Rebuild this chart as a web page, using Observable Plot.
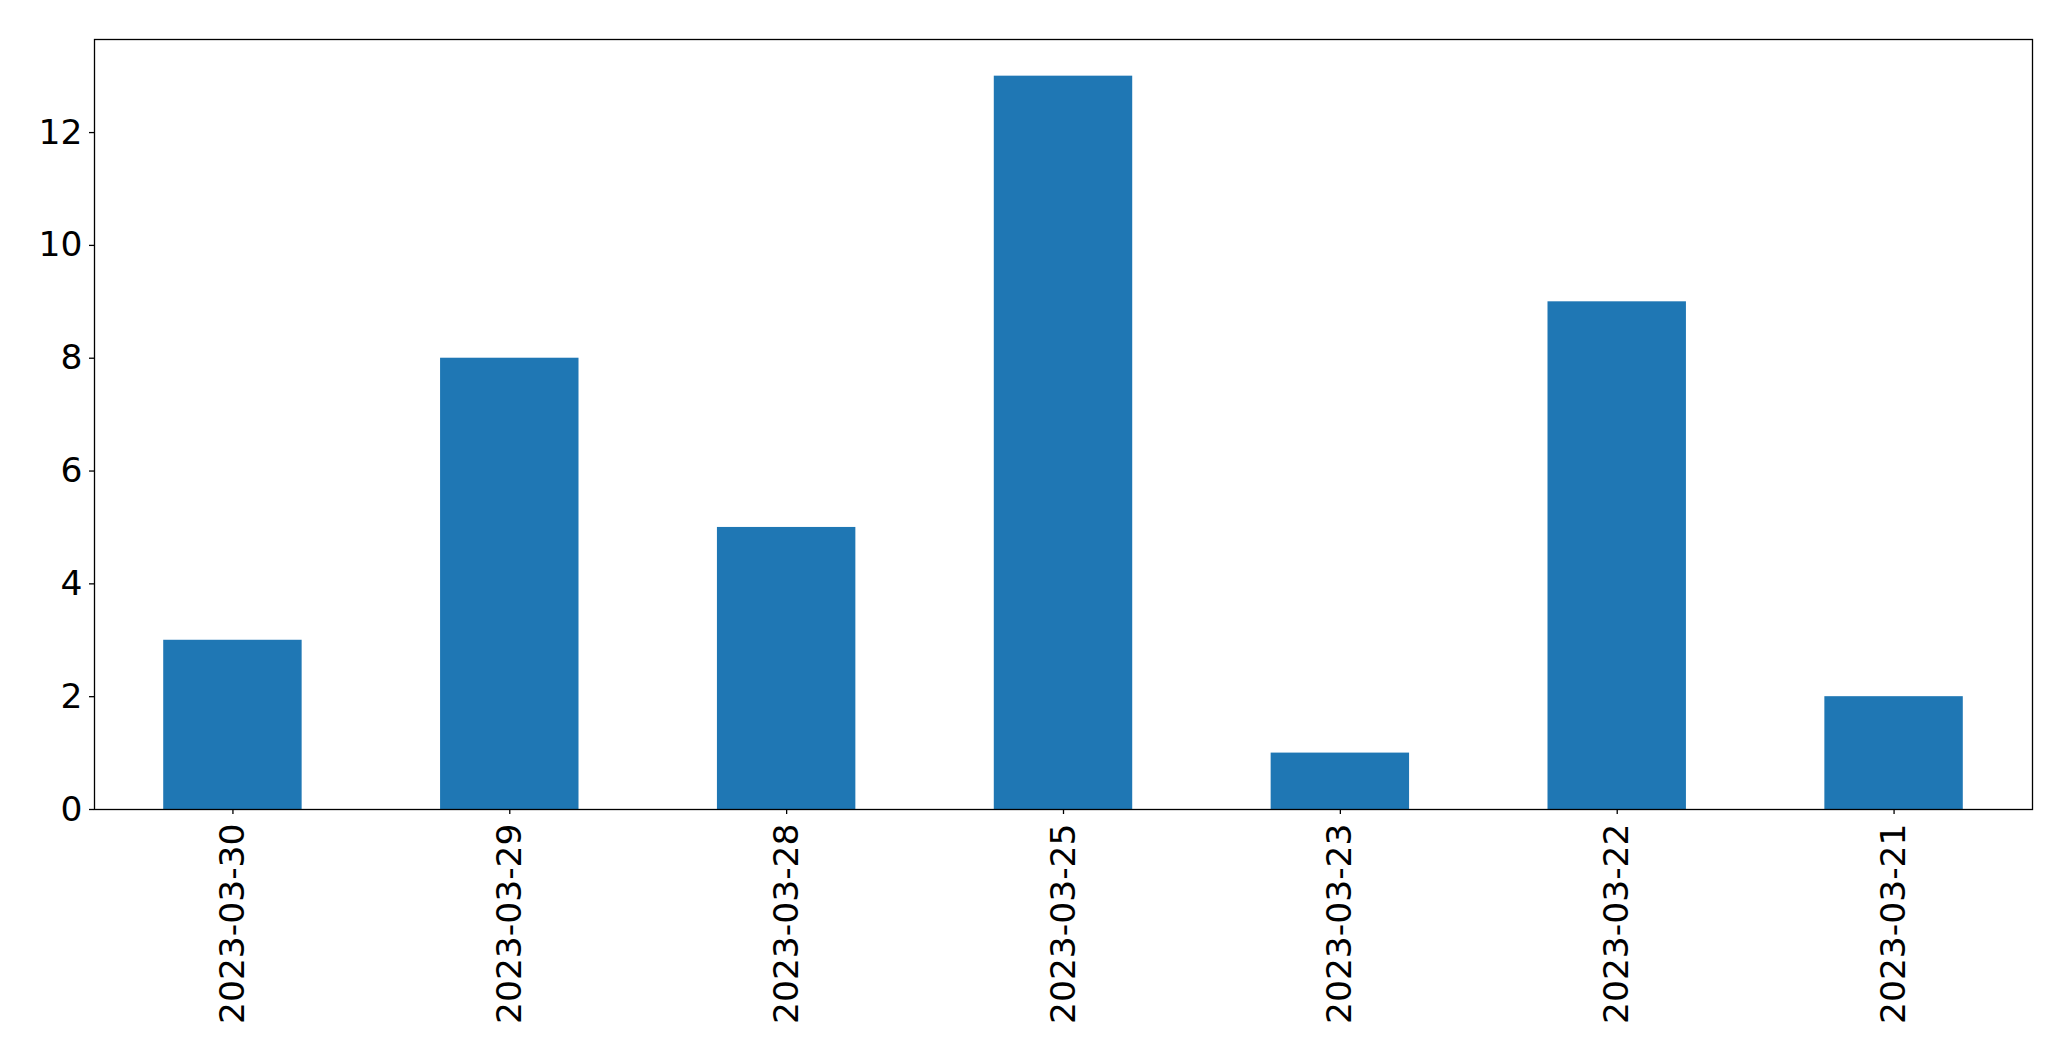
<!DOCTYPE html>
<html>
<head>
<meta charset="utf-8">
<script src="https://cdn.jsdelivr.net/npm/d3@7"></script>
<script src="https://cdn.jsdelivr.net/npm/@observablehq/plot@0.6"></script>
<style>
html, body { margin: 0; padding: 0; background: white; }
</style>
</head>
<body>
<div id="chart"></div>
<script>
const dates = ["2023-03-30", "2023-03-29", "2023-03-28", "2023-03-25", "2023-03-23", "2023-03-22", "2023-03-21"];
const counts = [3, 8, 5, 13, 1, 9, 2];
const yTicks = [0, 2, 4, 6, 8, 10, 12];

const data = dates.map((d, i) => ({date: d, count: counts[i]}));

const chart = Plot.plot({
  width: 2071,
  height: 1061,
  marginLeft: 94,
  marginRight: 39,
  marginTop: 39,
  marginBottom: 252,
  style: {fontFamily: "DejaVu Sans", fontSize: "34.5px", color: "black", background: "white"},
  x: {type: "band", domain: dates, paddingInner: 0.5, paddingOuter: 0.25, align: 0.5, round: false, label: null},
  y: {domain: [0, 13.65], label: null},
  marks: [
    Plot.barY(data, {x: "date", y: "count", fill: "#1f77b4"}),
    Plot.axisY({ticks: yTicks, tickSize: 5, tickPadding: 7, label: null, stroke: "black", strokeWidth: 1.3, strokeOpacity: 1}),
    Plot.axisX({tickSize: 5, tickPadding: 9, tickRotate: -90, label: null, stroke: "black", strokeWidth: 1.3, strokeOpacity: 1}),
    Plot.frame({stroke: "black", strokeWidth: 1.3})
  ]
});
document.getElementById("chart").appendChild(chart);
</script>
</body>
</html>
